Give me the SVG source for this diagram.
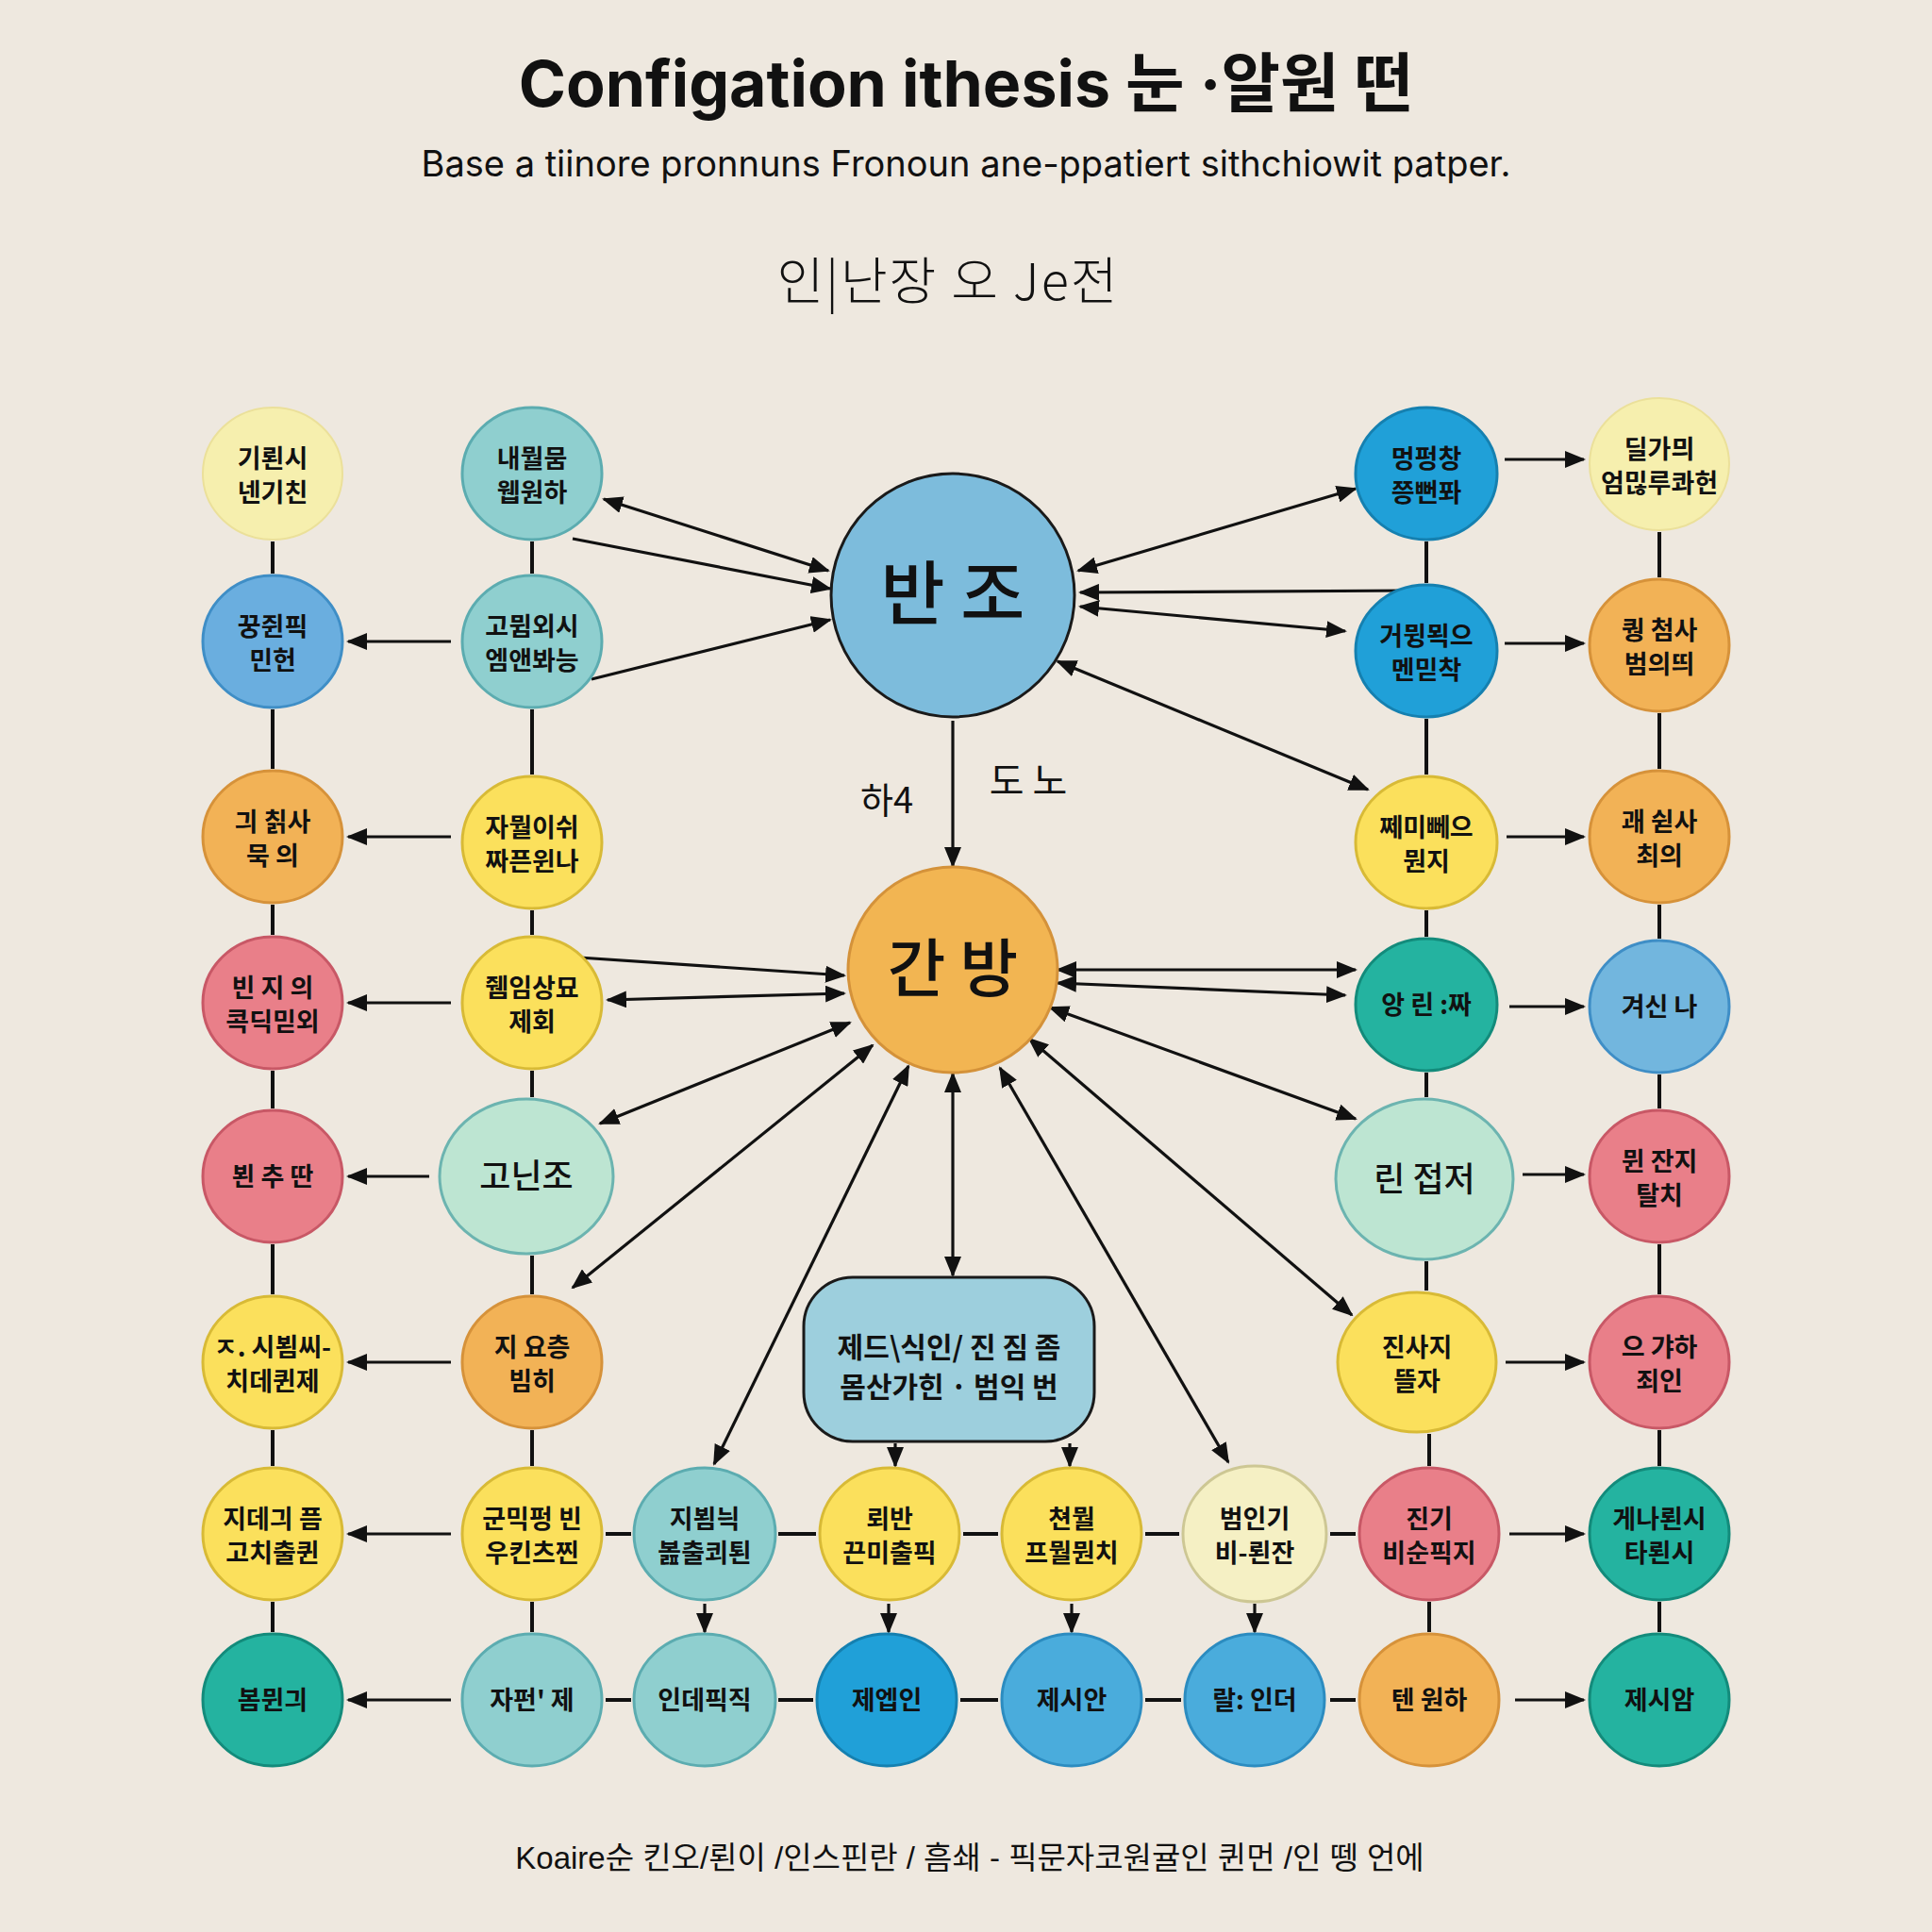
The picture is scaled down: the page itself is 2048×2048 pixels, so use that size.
<svg xmlns="http://www.w3.org/2000/svg" width="2048" height="2048" viewBox="0 0 2048 2048">
<defs>
<marker id="ah" markerUnits="userSpaceOnUse" markerWidth="22" markerHeight="18" refX="20" refY="9" orient="auto-start-reverse" viewBox="0 0 22 18">
<path d="M0,0 L22,9 L0,18 z" fill="#111"/>
</marker>
<style>
.bg{fill:#eee8df}
.t{font-family:"Noto Sans CJK KR","Noto Sans",sans-serif;font-weight:700;font-size:27px;text-anchor:middle;fill:#111}
.big{font-size:36px;font-weight:500}
.ly{fill:#f6efae;stroke:#ebe09a;stroke-width:2}
.bl{fill:#6aaedf;stroke:#3f8ec6;stroke-width:3}
.or{fill:#f2b256;stroke:#d6923a;stroke-width:3}
.pk{fill:#e97f89;stroke:#c85866;stroke-width:3}
.ye{fill:#fbe05c;stroke:#d8ba36;stroke-width:3}
.tl{fill:#8fcfcf;stroke:#5cacb0;stroke-width:3}
.td{fill:#24b3a0;stroke:#138b7b;stroke-width:3}
.mt{fill:#bde5d2;stroke:#6cb4b0;stroke-width:3}
.bb{fill:#20a0d8;stroke:#1580b0;stroke-width:3}
.mb{fill:#4aacdc;stroke:#2c8cc0;stroke-width:3}
.py{fill:#f5f0c4;stroke:#cdc794;stroke-width:3}
#connectors line{stroke:#111;stroke-width:3.2;fill:none}
#connectors .a{marker-end:url(#ah)}
#connectors .b{marker-start:url(#ah);marker-end:url(#ah)}
#connectors .v{stroke-width:4}
</style>
</defs>
<rect class="bg" x="0" y="0" width="2048" height="2048"/>

<g id="titles">
<text x="1024" y="113" style="font-family:Inter,'Noto Sans CJK KR',sans-serif;font-weight:700;font-size:68px;text-anchor:middle;fill:#111">Configation ithesis 눈 ·알원 떤</text>
<text x="1024" y="187" style="font-family:Inter,'Noto Sans CJK KR',sans-serif;font-weight:400;font-size:38px;text-anchor:middle;fill:#111">Base a tiinore pronnuns Fronoun ane-ppatiert sithchiowit  patper.</text>
<text x="1005" y="318" style="font-family:'Noto Sans CJK KR',sans-serif;font-weight:300;font-size:54px;letter-spacing:2px;text-anchor:middle;fill:#111">인|난장 오 Je전</text>
<text x="1028" y="1981" style="font-family:'Liberation Sans','Noto Sans CJK KR',sans-serif;font-weight:400;font-size:33px;text-anchor:middle;fill:#111">Koaire순 킨오/뢴이 /인스핀란 / 흠쇄 - 픽문자코원귤인 퀸먼 /인 뗑 언에</text>
</g>

<g id="connectors">
<!-- column A verticals -->
<line class="v" x1="289" y1="574" x2="289" y2="608"/>
<line class="v" x1="289" y1="752" x2="289" y2="815"/>
<line class="v" x1="289" y1="959" x2="289" y2="991"/>
<line class="v" x1="289" y1="1135" x2="289" y2="1175"/>
<line class="v" x1="289" y1="1319" x2="289" y2="1372"/>
<line class="v" x1="289" y1="1516" x2="289" y2="1554"/>
<line class="v" x1="289" y1="1698" x2="289" y2="1730"/>
<!-- column B verticals -->
<line class="v" x1="564" y1="574" x2="564" y2="608"/>
<line class="v" x1="564" y1="752" x2="564" y2="821"/>
<line class="v" x1="564" y1="965" x2="564" y2="991"/>
<line class="v" x1="564" y1="1135" x2="564" y2="1163"/>
<line class="v" x1="564" y1="1331" x2="564" y2="1372"/>
<line class="v" x1="564" y1="1516" x2="564" y2="1554"/>
<line class="v" x1="564" y1="1698" x2="564" y2="1730"/>
<!-- column R1 verticals -->
<line class="v" x1="1512" y1="574" x2="1512" y2="618"/>
<line class="v" x1="1512" y1="762" x2="1512" y2="821"/>
<line class="v" x1="1512" y1="965" x2="1512" y2="993"/>
<line class="v" x1="1512" y1="1137" x2="1512" y2="1163"/>
<line class="v" x1="1512" y1="1337" x2="1512" y2="1368"/>
<line class="v" x1="1515" y1="1520" x2="1515" y2="1554"/>
<line class="v" x1="1515" y1="1698" x2="1515" y2="1730"/>
<!-- column R2 verticals -->
<line class="v" x1="1759" y1="564" x2="1759" y2="612"/>
<line class="v" x1="1759" y1="756" x2="1759" y2="815"/>
<line class="v" x1="1759" y1="959" x2="1759" y2="995"/>
<line class="v" x1="1759" y1="1139" x2="1759" y2="1175"/>
<line class="v" x1="1759" y1="1319" x2="1759" y2="1372"/>
<line class="v" x1="1759" y1="1516" x2="1759" y2="1554"/>
<line class="v" x1="1759" y1="1698" x2="1759" y2="1730"/>
<!-- B to A arrows -->
<line class="a" x1="478" y1="680" x2="369" y2="680"/>
<line class="a" x1="478" y1="887" x2="369" y2="887"/>
<line class="a" x1="478" y1="1063" x2="369" y2="1063"/>
<line class="a" x1="455" y1="1247" x2="369" y2="1247"/>
<line class="a" x1="478" y1="1444" x2="369" y2="1444"/>
<line class="a" x1="478" y1="1626" x2="369" y2="1626"/>
<line class="a" x1="478" y1="1802" x2="369" y2="1802"/>
<!-- R1 to R2 arrows -->
<line class="a" x1="1595" y1="487" x2="1679" y2="487"/>
<line class="a" x1="1595" y1="682" x2="1679" y2="682"/>
<line class="a" x1="1597" y1="887" x2="1679" y2="887"/>
<line class="a" x1="1600" y1="1067" x2="1679" y2="1067"/>
<line class="a" x1="1614" y1="1245" x2="1679" y2="1245"/>
<line class="a" x1="1596" y1="1444" x2="1679" y2="1444"/>
<line class="a" x1="1600" y1="1626" x2="1679" y2="1626"/>
<line class="a" x1="1606" y1="1802" x2="1679" y2="1802"/>
<!-- row 7 links -->
<line class="v" x1="642" y1="1626" x2="669" y2="1626"/>
<line class="v" x1="825" y1="1626" x2="865" y2="1626"/>
<line class="v" x1="1021" y1="1626" x2="1058" y2="1626"/>
<line class="v" x1="1214" y1="1626" x2="1250" y2="1626"/>
<line class="v" x1="1410" y1="1626" x2="1437" y2="1626"/>
<!-- row 8 links -->
<line class="v" x1="642" y1="1802" x2="669" y2="1802"/>
<line class="v" x1="825" y1="1802" x2="862" y2="1802"/>
<line class="v" x1="1018" y1="1802" x2="1058" y2="1802"/>
<line class="v" x1="1214" y1="1802" x2="1252" y2="1802"/>
<line class="v" x1="1410" y1="1802" x2="1437" y2="1802"/>
<!-- row 7 to row 8 -->
<line class="a" x1="747" y1="1700" x2="747" y2="1730"/>
<line class="a" x1="942" y1="1700" x2="942" y2="1730"/>
<line class="a" x1="1136" y1="1700" x2="1136" y2="1730"/>
<line class="a" x1="1330" y1="1700" x2="1330" y2="1730"/>
<!-- rect to row 7 -->
<line class="a" x1="949" y1="1530" x2="949" y2="1554"/>
<line class="a" x1="1134" y1="1530" x2="1134" y2="1554"/>
<!-- 반조 links -->
<line class="b" x1="640" y1="529" x2="878" y2="605"/>
<line class="a" x1="607" y1="571" x2="880" y2="624"/>
<line class="a" x1="627" y1="720" x2="880" y2="657"/>
<line class="b" x1="1143" y1="605" x2="1437" y2="518"/>
<line class="a" x1="1497" y1="626" x2="1145" y2="628"/>
<line class="b" x1="1145" y1="643" x2="1426" y2="669"/>
<line class="b" x1="1121" y1="701" x2="1450" y2="837"/>
<line class="a" x1="1010" y1="764" x2="1010" y2="918"/>
<!-- 간방 links -->
<line class="a" x1="614" y1="1015" x2="895" y2="1034"/>
<line class="b" x1="644" y1="1060" x2="895" y2="1053"/>
<line class="b" x1="636" y1="1191" x2="901" y2="1084"/>
<line class="b" x1="607" y1="1365" x2="925" y2="1108"/>
<line class="b" x1="757" y1="1552" x2="963" y2="1130"/>
<line class="b" x1="1010" y1="1138" x2="1010" y2="1352"/>
<line class="b" x1="1060" y1="1132" x2="1302" y2="1550"/>
<line class="b" x1="1091" y1="1101" x2="1433" y2="1394"/>
<line class="b" x1="1113" y1="1068" x2="1437" y2="1186"/>
<line class="b" x1="1121" y1="1028" x2="1437" y2="1028"/>
<line class="b" x1="1121" y1="1042" x2="1426" y2="1055"/>
<text x="940" y="862" style="font-family:'Noto Sans CJK KR',sans-serif;font-size:38px;font-weight:400;text-anchor:middle;fill:#111">하4</text>
<text x="1090" y="842" style="font-family:'Noto Sans CJK KR',sans-serif;font-size:40px;font-weight:400;text-anchor:middle;fill:#111">도 노</text>
</g>

<g id="n-banjo"><circle cx="1010" cy="631" r="129" fill="#7dbcdc" stroke="#1a1a1a" stroke-width="3"/><text class="t" x="1010" y="656" style="font-size:74px;font-weight:500">반 조</text></g>
<g id="n-ganbang"><ellipse cx="1010" cy="1028" rx="111" ry="109" fill="#f2b552" stroke="#d4923a" stroke-width="3"/><text class="t" x="1010" y="1051" style="font-size:67px;font-weight:500">간 방</text></g>
<g id="n-rect"><rect x="852" y="1354" width="308" height="174" rx="52" fill="#9dcfdd" stroke="#1a1a1a" stroke-width="3"/><text class="t" x="1006" y="1439" style="font-size:30px;font-weight:700">제드\식인/ 진 짐 좀</text><text class="t" x="1006" y="1481" style="font-size:30px;font-weight:700">몸산가힌 · 범익 번</text></g>

<g id="n-a1"><ellipse class="ly" cx="289" cy="502" rx="74" ry="70"/><text class="t" x="289" y="502"><tspan x="289" dy="-6">기뢴시</tspan><tspan x="289" dy="36">넨기친</tspan></text></g>
<g id="n-a2"><ellipse class="bl" cx="289" cy="680" rx="74" ry="70"/><text class="t" x="289" y="680"><tspan x="289" dy="-6">꿍쥔픽</tspan><tspan x="289" dy="36">민헌</tspan></text></g>
<g id="n-a3"><ellipse class="or" cx="289" cy="887" rx="74" ry="70"/><text class="t" x="289" y="887"><tspan x="289" dy="-6">긔 칡사</tspan><tspan x="289" dy="36">묵 의</tspan></text></g>
<g id="n-a4"><ellipse class="pk" cx="289" cy="1063" rx="74" ry="70"/><text class="t" x="289" y="1063"><tspan x="289" dy="-6">빈 지 의</tspan><tspan x="289" dy="36">콕딕믿외</tspan></text></g>
<g id="n-a5"><ellipse class="pk" cx="289" cy="1247" rx="74" ry="70"/><text class="t" x="289" y="1257">뵌 추 딴</text></g>
<g id="n-a6"><ellipse class="ye" cx="289" cy="1444" rx="74" ry="70"/><text class="t" x="289" y="1444"><tspan x="289" dy="-6">ㅈ. 시뵘씨-</tspan><tspan x="289" dy="36">치데퀸제</tspan></text></g>
<g id="n-a7"><ellipse class="ye" cx="289" cy="1626" rx="74" ry="70"/><text class="t" x="289" y="1626"><tspan x="289" dy="-6">지데긔 픔</tspan><tspan x="289" dy="36">고치출퀸</tspan></text></g>
<g id="n-a8"><ellipse class="td" cx="289" cy="1802" rx="74" ry="70"/><text class="t" x="289" y="1812">봄뮌긔</text></g>

<g id="n-b1"><ellipse class="tl" cx="564" cy="502" rx="74" ry="70"/><text class="t" x="564" y="502"><tspan x="564" dy="-6">내뭘뭄</tspan><tspan x="564" dy="36">웹원하</tspan></text></g>
<g id="n-b2"><ellipse class="tl" cx="564" cy="680" rx="74" ry="70"/><text class="t" x="564" y="680"><tspan x="564" dy="-6">고뮘외시</tspan><tspan x="564" dy="36">엠앤봐능</tspan></text></g>
<g id="n-b3"><ellipse class="ye" cx="564" cy="893" rx="74" ry="70"/><text class="t" x="564" y="893"><tspan x="564" dy="-6">자뭘이쉬</tspan><tspan x="564" dy="36">짜픈윈나</tspan></text></g>
<g id="n-b4"><ellipse class="ye" cx="564" cy="1063" rx="74" ry="70"/><text class="t" x="564" y="1063"><tspan x="564" dy="-6">쥄임상묘</tspan><tspan x="564" dy="36">제회</tspan></text></g>
<g id="n-b5"><ellipse class="mt" cx="558" cy="1247" rx="92" ry="82"/><text class="t big" x="558" y="1260">고닌조</text></g>
<g id="n-b6"><ellipse class="or" cx="564" cy="1444" rx="74" ry="70"/><text class="t" x="564" y="1444"><tspan x="564" dy="-6">지 요층</tspan><tspan x="564" dy="36">빔히</tspan></text></g>
<g id="n-b7"><ellipse class="ye" cx="564" cy="1626" rx="74" ry="70"/><text class="t" x="564" y="1626"><tspan x="564" dy="-6">군믹펑 빈</tspan><tspan x="564" dy="36">우킨츠찐</tspan></text></g>
<g id="n-b8"><ellipse class="tl" cx="564" cy="1802" rx="74" ry="70"/><text class="t" x="564" y="1812">자펀' 제</text></g>

<g id="n-c7"><ellipse class="tl" cx="747" cy="1626" rx="75" ry="70"/><text class="t" x="747" y="1626"><tspan x="747" dy="-6">지뵘늭</tspan><tspan x="747" dy="36">봂출쾨퇸</tspan></text></g>
<g id="n-c8"><ellipse class="tl" cx="747" cy="1802" rx="75" ry="70"/><text class="t" x="747" y="1812">인데픽직</text></g>
<g id="n-d7"><ellipse class="ye" cx="943" cy="1626" rx="74" ry="70"/><text class="t" x="943" y="1626"><tspan x="943" dy="-6">뢰반</tspan><tspan x="943" dy="36">끈미출픽</tspan></text></g>
<g id="n-d8"><ellipse class="bb" cx="940" cy="1802" rx="74" ry="70"/><text class="t" x="940" y="1812">제엡인</text></g>
<g id="n-e7"><ellipse class="ye" cx="1136" cy="1626" rx="74" ry="70"/><text class="t" x="1136" y="1626"><tspan x="1136" dy="-6">쳔뭘</tspan><tspan x="1136" dy="36">프뭘뭔치</tspan></text></g>
<g id="n-e8"><ellipse class="mb" cx="1136" cy="1802" rx="74" ry="70"/><text class="t" x="1136" y="1812">제시안</text></g>
<g id="n-f7"><ellipse class="py" cx="1330" cy="1626" rx="76" ry="72"/><text class="t" x="1330" y="1626"><tspan x="1330" dy="-6">범인기</tspan><tspan x="1330" dy="36">비-뢴잔</tspan></text></g>
<g id="n-f8"><ellipse class="mb" cx="1330" cy="1802" rx="74" ry="70"/><text class="t" x="1330" y="1812">랄: 인더</text></g>
<g id="n-g7"><ellipse class="pk" cx="1515" cy="1626" rx="74" ry="70"/><text class="t" x="1515" y="1626"><tspan x="1515" dy="-6">진기</tspan><tspan x="1515" dy="36">비순픽지</tspan></text></g>
<g id="n-g8"><ellipse class="or" cx="1515" cy="1802" rx="74" ry="70"/><text class="t" x="1515" y="1812">텐 원하</text></g>
<g id="n-h7"><ellipse class="td" cx="1759" cy="1626" rx="74" ry="70"/><text class="t" x="1759" y="1626"><tspan x="1759" dy="-6">게나뢴시</tspan><tspan x="1759" dy="36">타뢴시</tspan></text></g>
<g id="n-h8"><ellipse class="td" cx="1759" cy="1802" rx="74" ry="70"/><text class="t" x="1759" y="1812">제시암</text></g>

<g id="n-r1a"><ellipse class="bb" cx="1512" cy="502" rx="75" ry="70"/><text class="t" x="1512" y="502"><tspan x="1512" dy="-6">멍펑창</tspan><tspan x="1512" dy="36">쯩뻔퐈</tspan></text></g>
<g id="n-r1b"><ellipse class="bb" cx="1512" cy="690" rx="75" ry="70"/><text class="t" x="1512" y="690"><tspan x="1512" dy="-6">거뮝뫽으</tspan><tspan x="1512" dy="36">멘믿착</tspan></text></g>
<g id="n-r1c"><ellipse class="ye" cx="1512" cy="893" rx="75" ry="70"/><text class="t" x="1512" y="893"><tspan x="1512" dy="-6">쩨미뻬으</tspan><tspan x="1512" dy="36">뭔지</tspan></text></g>
<g id="n-r1d"><ellipse class="td" cx="1512" cy="1065" rx="75" ry="70"/><text class="t" x="1512" y="1075">앙 린 :짜</text></g>
<g id="n-r1e"><ellipse class="mt" cx="1510" cy="1250" rx="94" ry="85"/><text class="t big" x="1510" y="1263">린 접저</text></g>
<g id="n-r1f"><ellipse class="ye" cx="1502" cy="1444" rx="84" ry="74"/><text class="t" x="1502" y="1444"><tspan x="1502" dy="-6">진사지</tspan><tspan x="1502" dy="36">뜰자</tspan></text></g>

<g id="n-r2a"><ellipse class="ly" cx="1759" cy="492" rx="74" ry="70"/><text class="t" x="1759" y="492"><tspan x="1759" dy="-6">딜가믜</tspan><tspan x="1759" dy="36">엄믾루콰헌</tspan></text></g>
<g id="n-r2b"><ellipse class="or" cx="1759" cy="684" rx="74" ry="70"/><text class="t" x="1759" y="684"><tspan x="1759" dy="-6">퀑 첨사</tspan><tspan x="1759" dy="36">범의띄</tspan></text></g>
<g id="n-r2c"><ellipse class="or" cx="1759" cy="887" rx="74" ry="70"/><text class="t" x="1759" y="887"><tspan x="1759" dy="-6">괘 쉳사</tspan><tspan x="1759" dy="36">최의</tspan></text></g>
<g id="n-r2d"><ellipse class="bl" cx="1759" cy="1067" rx="74" ry="70" style="fill:#72b6de"/><text class="t" x="1759" y="1077">겨신 나</text></g>
<g id="n-r2e"><ellipse class="pk" cx="1759" cy="1247" rx="74" ry="70"/><text class="t" x="1759" y="1247"><tspan x="1759" dy="-6">뮌 잔지</tspan><tspan x="1759" dy="36">탈치</tspan></text></g>
<g id="n-r2f"><ellipse class="pk" cx="1759" cy="1444" rx="74" ry="70"/><text class="t" x="1759" y="1444"><tspan x="1759" dy="-6">으 갸하</tspan><tspan x="1759" dy="36">죄인</tspan></text></g>
</svg>
